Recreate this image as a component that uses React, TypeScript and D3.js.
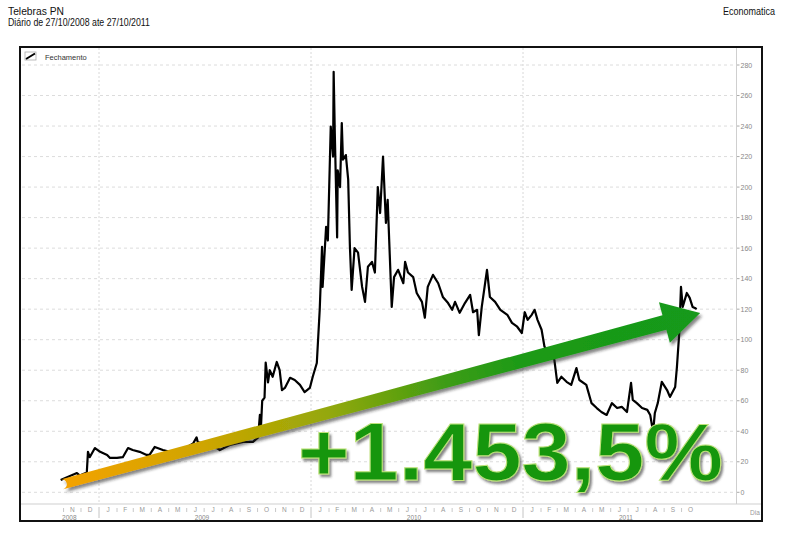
import React from 'react';
import * as d3 from 'd3';

const title = 'Telebras PN';
const subtitle = 'Diário de 27/10/2008 ate 27/10/2011';
const source = 'Economatica';
const legendLabel = 'Fechamento';
const changeLabel = '+1.453,5%';
const axisUnit = 'Dia';

const dates = [
  '2008-10-27','2008-10-31','2008-11-24','2008-11-29','2008-12-11','2008-12-13','2008-12-16','2008-12-25',
  '2009-01-03','2009-01-15','2009-01-20','2009-02-01','2009-02-11','2009-02-20','2009-02-28','2009-03-12',
  '2009-03-24','2009-03-29','2009-04-07','2009-04-21','2009-05-03','2009-05-25','2009-06-12','2009-06-18',
  '2009-06-20','2009-07-06','2009-07-23','2009-07-28','2009-08-14','2009-09-06','2009-09-23','2009-10-02',
  '2009-10-05','2009-10-07','2009-10-09','2009-10-13','2009-10-15','2009-10-19','2009-10-22','2009-10-27',
  '2009-11-03','2009-11-08','2009-11-12','2009-11-17','2009-11-26','2009-12-04','2009-12-13','2009-12-21',
  '2009-12-30','2010-01-04','2010-01-11','2010-01-16','2010-01-20','2010-01-21','2010-01-27','2010-01-30',
  '2010-02-04','2010-02-08','2010-02-09','2010-02-11','2010-02-15','2010-02-16','2010-02-20','2010-02-23',
  '2010-02-25','2010-03-02','2010-03-06','2010-03-09','2010-03-12','2010-03-17','2010-03-23','2010-03-30',
  '2010-04-04','2010-04-09','2010-04-16','2010-04-21','2010-04-26','2010-04-30','2010-05-05','2010-05-10',
  '2010-05-13','2010-05-20','2010-05-24','2010-05-31','2010-06-09','2010-06-12','2010-06-17','2010-06-26',
  '2010-07-02','2010-07-11','2010-07-16','2010-07-21','2010-07-30','2010-08-08','2010-08-16','2010-08-25',
  '2010-09-01','2010-09-06','2010-09-14','2010-09-23','2010-10-02','2010-10-07','2010-10-14','2010-10-17',
  '2010-10-22','2010-10-31','2010-11-05','2010-11-14','2010-11-23','2010-12-05','2010-12-13','2010-12-22',
  '2010-12-30','2011-01-04','2011-01-09','2011-01-16','2011-01-21','2011-01-26','2011-02-02','2011-02-07',
  '2011-02-15','2011-02-24','2011-03-01','2011-03-08','2011-03-17','2011-03-25','2011-04-03','2011-04-08',
  '2011-04-20','2011-04-29','2011-05-08','2011-05-16','2011-05-25','2011-06-03','2011-06-12','2011-06-20',
  '2011-06-29','2011-07-06','2011-07-09','2011-07-16','2011-07-25','2011-08-03','2011-08-08','2011-08-13',
  '2011-08-16','2011-08-21','2011-08-28','2011-09-06','2011-09-11','2011-09-20','2011-09-23','2011-09-27',
  '2011-09-30','2011-10-03','2011-10-10','2011-10-15','2011-10-20','2011-10-24','2011-10-27'
];

const closes = [
  8, 8.7, 12.6, 11, 13, 26.5, 23, 29,
  26.5, 24.5, 22.5, 22.5, 23, 29, 27.7, 26.5,
  24.5, 24.5, 29.7, 27.7, 26.5, 27.7, 32, 36,
  33, 31, 29, 27.7, 31, 33, 33, 36,
  50.7, 44, 60, 62, 85, 72, 80, 75.7,
  85.4, 80, 67, 68.4, 75, 73.6, 70.4, 65.7,
  68.4, 75.7, 84.7, 119.6, 160.8, 134.6, 174, 165,
  239.7, 220, 275.5, 235, 167, 211, 200, 242,
  218, 221, 205, 161, 132.6, 160, 157, 134.6,
  124.8, 147.8, 151, 144, 200, 183, 220, 176.5,
  191.6, 121.5, 141, 145.8, 137, 151, 144, 141,
  130.6, 124.8, 114.4, 134.6, 142.5, 137, 128, 124,
  119.6, 124.8, 117.6, 124, 129.4, 118, 119.6, 103,
  121.5, 145.8, 128, 124.8, 119.6, 116.3, 111, 108.5,
  104.4, 118, 113, 116.3, 119.6, 113, 106.5, 95.4,
  91, 86.8, 71.7, 75.7, 72.4, 70.4, 81.4, 73.6,
  70.4, 58.4, 55.2, 52.6, 50.7, 58.4, 55.2, 56,
  52.6, 71.7, 60.5, 58.4, 55.2, 54, 50.7, 39.5,
  52, 58.4, 72.4, 67, 62.5, 69, 82, 104.4,
  134.6, 121.5, 130.6, 127.4, 121.5, 120.8, 120
];

const yTicks = [0, 20, 40, 60, 80, 100, 120, 140, 160, 180, 200, 220, 240, 260, 280];
const monthLetters = ['J', 'F', 'M', 'A', 'M', 'J', 'J', 'A', 'S', 'O', 'N', 'D'];
const years = [2008, 2009, 2010, 2011];
const axisStart = '2008-10-01';
const firstMonth = '2008-11-01';
const lastMonth = '2011-10-01';
const arrowFrom = { date: '2008-10-29', value: 5.2 };
const arrowTo = { date: '2011-11-02', value: 117.5 };

const parse = d3.timeParse('%Y-%m-%d');
const FONT = "'Liberation Sans', Arial, sans-serif";

export default function App() {
  const W = 790, H = 534;
  const frame = { left: 20, top: 47, right: 762, bottom: 521 };
  const axisX = 736.5;
  const axisY = 504;

  const x = d3.scaleTime()
    .domain([new Date(2009, 0, 1), new Date(2011, 0, 1)])
    .range([99, 523]);
  const y = d3.scaleLinear().domain([0, 280]).range([492.3, 65]);

  const data = dates.map((d, i) => ({ date: parse(d)!, value: closes[i] }));
  const line = d3.line<{ date: Date; value: number }>()
    .x(d => x(d.date))
    .y(d => y(d.value));

  const months = d3.timeMonth.range(parse(firstMonth)!, d3.timeMonth.offset(parse(lastMonth)!, 1));
  const yearStarts = years.slice(1).map(yr => new Date(yr, 0, 1));
  const visStart = x(parse(axisStart)!);

  // Arrow geometry
  const S = [x(parse(arrowFrom.date)!), y(arrowFrom.value)];
  const T = [x(parse(arrowTo.date)!), y(arrowTo.value)];
  const len = Math.hypot(T[0] - S[0], T[1] - S[1]);
  const u = [(T[0] - S[0]) / len, (T[1] - S[1]) / len];
  const n = [-u[1], u[0]];
  const headLen = 37, headHalf = 21, w0 = 5, w1 = 7.5;
  const B = [T[0] - u[0] * headLen, T[1] - u[1] * headLen];
  const p = (base: number[], k: number) => `${base[0] + n[0] * k},${base[1] + n[1] * k}`;
  const arrowPath = `M${p(S, w0)} L${p(B, w1)} L${p(B, headHalf)} L${T[0]},${T[1]} L${p(B, -headHalf)} L${p(B, -w1)} L${p(S, -w0)} A${w0},${w0} 0 0 1 ${p(S, w0)} Z`;

  return (
    <svg width={W} height={H} style={{ display: 'block', position: 'absolute', left: 0, top: 0 }} fontFamily={FONT}>
      <defs>
        <linearGradient id="arrowGrad" gradientUnits="userSpaceOnUse" x1={S[0]} y1={S[1]} x2={T[0]} y2={T[1]}>
          <stop offset="0" stopColor="#f4a200" />
          <stop offset="0.22" stopColor="#cfa500" />
          <stop offset="0.42" stopColor="#93a80a" />
          <stop offset="0.6" stopColor="#3e9c14" />
          <stop offset="0.72" stopColor="#1c9a18" />
          <stop offset="1" stopColor="#16991a" />
        </linearGradient>
        <filter id="shadow" x="-10%" y="-30%" width="130%" height="170%">
          <feDropShadow dx="2" dy="3" stdDeviation="1.5" floodColor="#222" floodOpacity="0.55" />
        </filter>
        <filter id="tshadow" x="-5%" y="-10%" width="115%" height="130%">
          <feDropShadow dx="2" dy="2.5" stdDeviation="1.2" floodColor="#333" floodOpacity="0.6" />
        </filter>
      </defs>
      <rect x={0} y={0} width={W} height={H} fill="#fff" />

      {/* Header */}
      <text x={8} y={15} fontSize={10} fill="#111" textLength={56} lengthAdjust="spacingAndGlyphs">{title}</text>
      <text x={8} y={25.5} fontSize={10} fill="#111" textLength={142} lengthAdjust="spacingAndGlyphs">{subtitle}</text>
      <text x={723} y={15} fontSize={10} fill="#111" textLength={52} lengthAdjust="spacingAndGlyphs">{source}</text>

      {/* Horizontal gridlines & y ticks */}
      {yTicks.map(t => (
        <g key={t}>
          <line x1={frame.left + 2} x2={axisX} y1={y(t)} y2={y(t)} stroke="#dcdcdc" strokeWidth={1} strokeDasharray="3,3" />
          <line x1={axisX} x2={axisX + 3} y1={y(t)} y2={y(t)} stroke="#aaa" strokeWidth={1} />
          <text x={axisX + 4} y={y(t) + 2.5} fontSize={7} fill="#888">{t}</text>
        </g>
      ))}

      {/* Vertical year gridlines */}
      {yearStarts.map(d => (
        <g key={+d}>
          <line x1={x(d)} x2={x(d)} y1={frame.top + 1} y2={axisY} stroke="#d8d8d8" strokeWidth={1} strokeDasharray="2,2" />
          <line x1={x(d)} x2={x(d)} y1={axisY + 3} y2={frame.bottom - 3} stroke="#c4c4c4" strokeWidth={1} />
        </g>
      ))}

      {/* Axes lines */}
      <line x1={axisX} x2={axisX} y1={frame.top} y2={axisY} stroke="#cfcfcf" strokeWidth={1} />
      <line x1={frame.left} x2={frame.right} y1={axisY} y2={axisY} stroke="#cfcfcf" strokeWidth={1} />

      {/* Month labels and ticks */}
      {months.map(m => {
        const next = d3.timeMonth.offset(m, 1);
        const cx = (x(m) + x(next)) / 2;
        return (
          <g key={+m}>
            {m.getMonth() !== 0 && (
              <line x1={x(m)} x2={x(m)} y1={508} y2={512} stroke="#c8c8c8" strokeWidth={1} />
            )}
            <text x={cx} y={512} fontSize={6.5} fill="#999" textAnchor="middle">{monthLetters[m.getMonth()]}</text>
          </g>
        );
      })}
      {years.map(yr => {
        const a = Math.max(x(new Date(yr, 0, 1)), visStart);
        const b = Math.min(x(new Date(yr + 1, 0, 1)), axisX);
        return (
          <text key={yr} x={(a + b) / 2 - 3} y={519.5} fontSize={6.5} fill="#888" textAnchor="middle">{yr}</text>
        );
      })}
      <text x={755} y={515} fontSize={6.5} fill="#999" textAnchor="middle">{axisUnit}</text>

      {/* Legend */}
      <rect x={25} y={52} width={11} height={8} fill="#fff" stroke="#aaa" strokeWidth={0.8} />
      <line x1={26} y1={59} x2={35} y2={53.5} stroke="#000" strokeWidth={2} />
      <text x={45} y={60} fontSize={7.5} fill="#333">{legendLabel}</text>

      {/* Series line */}
      <path d={line(data) ?? ''} fill="none" stroke="#000" strokeWidth={2.2} strokeLinejoin="round" />

      {/* Annotation arrow */}
      <path d={arrowPath} fill="url(#arrowGrad)" filter="url(#shadow)" />

      {/* Big change label */}
      <text x={298} y={480} fontSize={82} fontWeight="bold" fill="#12960f" stroke="#bfe27a" strokeWidth={1}
        textLength={425} lengthAdjust="spacingAndGlyphs" filter="url(#tshadow)">{changeLabel}</text>

      {/* Frame */}
      <rect x={frame.left} y={frame.top} width={frame.right - frame.left} height={frame.bottom - frame.top}
        fill="none" stroke="#111" strokeWidth={2} />
    </svg>
  );
}
